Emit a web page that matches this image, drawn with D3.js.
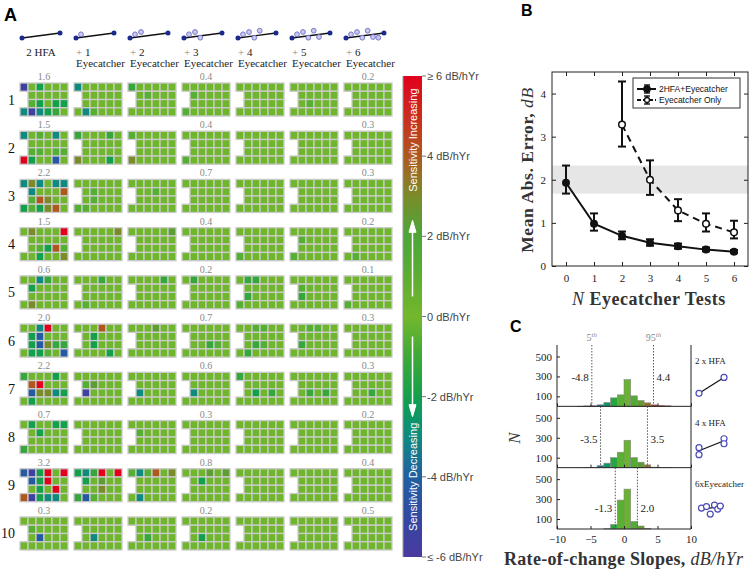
<!DOCTYPE html>
<html lang="en">
<head>
<meta charset="utf-8">
<script src="https://cdn.jsdelivr.net/npm/d3@7"></script>
<style>
  body { margin: 0; background: #fff; }
  svg text { font-family: "Liberation Serif", "Times New Roman", serif; }
  svg text.sans { font-family: "Liberation Sans", Arial, sans-serif; }
</style>
</head>
<body>
<div id="chart"></div>
<script>
// ---------------- panel A data ----------------
const rowIds = [1, 2, 3, 4, 5, 6, 7, 8, 9, 10];
const testCols = ["2 HFA", "+ 1", "+ 2", "+ 3", "+ 4", "+ 5", "+ 6"];
const labelledCols = [0, 3, 6];
const rowErrors = [
  [1.6, 0.4, 0.2], [1.5, 0.4, 0.3], [2.2, 0.7, 0.3], [1.5, 0.4, 0.2], [0.6, 0.2, 0.1],
  [2.0, 0.7, 0.3], [2.2, 0.6, 0.3], [0.7, 0.3, 0.2], [3.2, 0.8, 0.4], [0.3, 0.2, 0.5]
];
// each grid: 4 rows (6, 5, 5, 6 cells), one char per cell -> slope class
const codeSlopes = { ".": 0.15, ",": -0.6, "g": -1.2, "G": -2.0, "t": -3.0, "b": -4.3, "p": -5.5,
                     "O": 2.4, "o": 3.0, "r": 4.0, "R": 6.0 };
const gridCodes = [
  ["p.G...|.....|,G.GG|tptGg.", "t.....|.....|.....|.t,...", "g.....|.,...|.....|......", "......|,....|.....|,.....", "......|.....|.....|......", "......|.....|.,...|......", "......|.....|.....|......"],
  ["t.,.t.|.....|,,.,,|RG..b.", "g...g.|.....|.....|o...G.", ",.....|.....|.....|o.....", "......|.....|.....|,.....", "......|.....|.....|......", "......|.....|.....|......", "......|.....|.....|......"],
  ["tot.tt|t...r|,ro..|G,Gor.", "......|.,...|.,...|,,....", "......|..,..|.....|......", "......|.....|.....|......", "......|.....|.....|......", "......|.....|.....|......", "......|.....|.....|......"],
  [".o...R|.....|.,Gr,|..G..o", ".....o|.....|.....|......", ".....O|.....|.....|......", "......|.....|.....|......", "......|.....|.....|,.....", "......|,....|.....|,.....", "......|.....|.....|.,...."],
  ["..tg..|G....|.....|.o....", "...g..|.....|.....|.,....", "....g.|.....|.....|......", ".g....|.....|.....|......", ".gg...|.....|g....|,.....", "......|,....|g....|......", "......|.....|.....|,....."],
  ["..tR..|Gb...|Gbogg|.GG,.b", "...r..|.G...|.G...|....G.", "...O..|.....|.....|......", "......|.....|..g,.|......", "..,,..|.....|.g,..|.g....", "..,,..|.....|g....|......", "......|.....|.....|......"],
  ["g...G.|rR...|bootG|.G....", "......|,O...|p....|......", "......|.....|t....|......", "......|.....|t....|......", "g.....|.....|.G.g.|......", "......|.....|.g.g.|......", "......|.....|..g..|......"],
  [".G..GG|.G...|.....|g.....", "......|.....|.....|......", "......|,....|.....|......", "......|.....|.....|......", "......|.....|.....|......", "......|.....|.....|......", "......|.....|.....|......"],
  ["bpGR.R|bGR..|.G.R.|rpGtt.", "GtgR.R|G.O..|..o..|gb,...", ",t,r.o|.....|.....|.t....", "...O.O|.G...|.....|......", "......|.....|.....|......", "......|.....|.....|......", "......|.....|.....|......"],
  ["......|,....|.b...|......", "......|.....|.t...|......", "......|.....|.g...|......", "......|.....|.G...|......", "......|.....|.....|......", "......|.....|.....|......", "......|.....|.....|......"]
];
// header icons: eyecatcher points (x offset, y) shared by all icons
const eyeDx = [5, 11, 16.3, 21.7, 27, 32.3];
const eyeY = [34.3, 32, 37.7, 30.7, 37, 37.7];

// colour bar
const slopeStops = [-6, -5, -4, -3, -2.5, -2, -1, 0, 1, 2, 3, 4, 5, 6];
const slopeColors = ["#4a3a9e", "#3248a2", "#2060a2", "#0f8a7e", "#0c9866", "#12a04a", "#3ea938", "#74b72c",
                     "#5cae32", "#4ca63a", "#7a8c2a", "#ae581e", "#cc2c1c", "#e2001c"];
const cbTicks = [6, 4, 2, 0, -2, -4, -6];
const cbTickLabels = ["\u2265 6 dB/hYr", "4 dB/hYr", "2 dB/hYr", "0 dB/hYr", "-2 dB/hYr", "-4 dB/hYr", "\u2264 -6 dB/hYr"];

// ---------------- panel B data ----------------
const nTests = [0, 1, 2, 3, 4, 5, 6];
const hfaMean = [1.93, 0.98, 0.70, 0.54, 0.46, 0.38, 0.33];
const hfaLo = [1.68, 0.82, 0.62, 0.47, 0.40, 0.34, 0.30];
const hfaHi = [2.33, 1.22, 0.80, 0.62, 0.52, 0.43, 0.37];
const eyeTests = [2, 3, 4, 5, 6];
const eyeMean = [3.28, 2.00, 1.29, 0.98, 0.78];
const eyeLo = [2.77, 1.65, 1.04, 0.80, 0.64];
const eyeHi = [4.28, 2.45, 1.55, 1.22, 1.05];
const bandRange = [1.68, 2.33];

// ---------------- panel C data ----------------
const binStarts = [-7, -6, -5, -4, -3, -2, -1, 0, 1, 2, 3, 4, 5, 6];
const histHFA2 = [1, 4, 6, 15, 38, 85, 115, 268, 105, 58, 35, 15, 10, 5];
const histHFA4 = [0, 1, 3, 20, 45, 100, 155, 275, 100, 55, 28, 5, 2, 1];
const histEye6 = [0, 0, 0, 0, 3, 45, 290, 400, 75, 30, 5, 0, 0, 0];
const histTitles = ["2 x HFA", "4 x HFA", "6xEyecatcher"];
const pct5 = [-4.8, -3.5, -1.3];
const pct95 = [4.4, 3.5, 2.0];
const iconPts = [
  [[0, 130], [1, 290]],
  [[0, 200], [0, 130], [1, 290], [1, 240]],
  [[0.1, 210], [0.3, 225], [0.45, 150], [0.62, 240], [0.75, 200], [0.85, 230]]
];
const iconFit = [[130, 290], [170, 270], [190, 235]];

// ---------------- drawing ----------------
const svg = d3.select("#chart").append("svg").attr("width", 750).attr("height", 569);
const slopeColor = d3.scaleLinear().domain(slopeStops).range(slopeColors).clamp(true);

// ===== panel A =====
svg.append("text").attr("class", "sans").attr("x", 4).attr("y", 21)
  .attr("font-size", 18).attr("font-weight", "bold").text("A");

const gx = d3.scaleBand().domain(d3.range(7)).range([20, 392]).paddingInner(0.111);
const gy = d3.scaleBand().domain(rowIds).range([83, 550]).paddingInner(0.315);
const cx = d3.scaleBand().domain(d3.range(6)).range([0, gx.bandwidth()]);
const cy = d3.scaleBand().domain(d3.range(4)).range([0, gy.bandwidth()]);

// header icons
const head = svg.append("g");
testCols.forEach((lab, j) => {
  const x0 = gx(j) + 2, x1 = gx(j) + 40;
  const g = head.append("g");
  g.append("line").attr("x1", x0).attr("y1", 38).attr("x2", x1).attr("y2", 33)
    .attr("stroke", "#111").attr("stroke-width", 1.4);
  g.selectAll("circle.e").data(d3.range(j)).join("circle")
    .attr("cx", k => x0 + eyeDx[k]).attr("cy", k => eyeY[k]).attr("r", 2.4)
    .attr("fill", "#c9c9f0").attr("stroke", "#6c6cc4").attr("stroke-width", 0.9);
  g.selectAll("circle.h").data([[x0, 38], [x1, 33]]).join("circle")
    .attr("cx", d => d[0]).attr("cy", d => d[1]).attr("r", 2.5).attr("fill", "#1c2a8c");
  if (j === 0) {
    g.append("text").attr("x", (x0 + x1) / 2).attr("y", 56).attr("text-anchor", "middle")
      .attr("font-size", 11).attr("fill", "#222").text(lab);
  } else {
    const t = g.append("text").attr("x", x0).attr("y", 56).attr("font-size", 11).attr("fill", "#222");
    t.append("tspan").attr("fill", "#888").text("+");
    t.append("tspan").text(" " + lab.slice(2));
    g.append("text").attr("x", x0).attr("y", 67).attr("font-size", 11).attr("fill", "#222").text("Eyecatcher");
  }
});

// row labels
svg.append("g").selectAll("text").data(rowIds).join("text")
  .attr("x", 15).attr("y", d => gy(d) + gy.bandwidth() / 2 + 5)
  .attr("text-anchor", "end").attr("font-size", 14).attr("fill", "#111").text(d => d);

// row error values above grids
rowIds.forEach((rid, i) => {
  svg.append("g").selectAll("text").data(labelledCols).join("text")
    .attr("x", c => gx(c) + gx.bandwidth() / 2).attr("y", gy(rid) - 3)
    .attr("text-anchor", "middle").attr("font-size", 10).attr("fill", "#888")
    .text((c, k) => rowErrors[i][k].toFixed(1));
});

// grids
const parseGrid = code => {
  const cells = [];
  code.split("|").forEach((part, r) => {
    const start = (r === 1 || r === 2) ? 1 : 0;
    part.split("").forEach((ch, k) => cells.push({ r, c: start + k, v: codeSlopes[ch] }));
  });
  return cells;
};
gridCodes.forEach((row, i) => {
  row.forEach((code, j) => {
    svg.append("g")
      .attr("transform", `translate(${gx(j)},${gy(rowIds[i])})`)
      .selectAll("rect").data(parseGrid(code)).join("rect")
      .attr("x", d => cx(d.c)).attr("y", d => cy(d.r))
      .attr("width", cx.bandwidth()).attr("height", cy.bandwidth())
      .attr("fill", d => slopeColor(d.v))
      .attr("stroke", "#cbcbcb").attr("stroke-width", 1.3);
  });
});

// colour bar
const cbY = d3.scaleLinear().domain([6, -6]).range([76, 557]);
const cbX = 403, cbW = 19;
const grad = svg.append("defs").append("linearGradient").attr("id", "cbGrad")
  .attr("x1", 0).attr("y1", 0).attr("x2", 0).attr("y2", 1);
d3.range(0, 1.0001, 0.025).forEach(t =>
  grad.append("stop").attr("offset", t).attr("stop-color", slopeColor(6 - 12 * t)));
svg.append("rect").attr("x", cbX).attr("y", cbY(6)).attr("width", cbW)
  .attr("height", cbY(-6) - cbY(6)).attr("fill", "url(#cbGrad)");
svg.append("line").attr("x1", cbX).attr("x2", cbX).attr("y1", cbY(6)).attr("y2", cbY(-6))
  .attr("stroke", "#999").attr("stroke-width", 1);
svg.append("g").selectAll("line").data(cbTicks).join("line")
  .attr("x1", cbX + cbW).attr("x2", cbX + cbW + 4).attr("y1", d => cbY(d)).attr("y2", d => cbY(d))
  .attr("stroke", "#777");
svg.append("g").selectAll("text").data(cbTicks).join("text").attr("class", "sans")
  .attr("x", cbX + cbW + 5).attr("y", d => cbY(d) + 4).attr("font-size", 11).attr("fill", "#444")
  .text((d, k) => cbTickLabels[k]);
const cbMid = cbX + cbW / 2;
svg.append("text").attr("class", "sans")
  .attr("transform", `translate(${cbMid + 4},${cbY(4.4)}) rotate(-90)`)
  .attr("text-anchor", "middle").attr("font-size", 11).attr("fill", "#fff").text("Sensitivity Increasing");
svg.append("text").attr("class", "sans")
  .attr("transform", `translate(${cbMid + 4},${cbY(-4.0)}) rotate(-90)`)
  .attr("text-anchor", "middle").attr("font-size", 11).attr("fill", "#fff").text("Sensitivity Decreasing");
const arrows = svg.append("g").attr("stroke", "#fff").attr("fill", "#fff");
arrows.append("line").attr("x1", cbMid).attr("x2", cbMid).attr("y1", cbY(0.5)).attr("y2", cbY(2.1)).attr("stroke-width", 1.5);
arrows.append("path").attr("d", `M${cbMid - 3.5},${cbY(2.1)} L${cbMid + 3.5},${cbY(2.1)} L${cbMid},${cbY(2.4)} Z`);
arrows.append("line").attr("x1", cbMid).attr("x2", cbMid).attr("y1", cbY(-0.5)).attr("y2", cbY(-2.2)).attr("stroke-width", 1.5);
arrows.append("path").attr("d", `M${cbMid - 3.5},${cbY(-2.2)} L${cbMid + 3.5},${cbY(-2.2)} L${cbMid},${cbY(-2.5)} Z`);

// ===== panel B =====
svg.append("text").attr("class", "sans").attr("x", 521).attr("y", 16)
  .attr("font-size", 16).attr("font-weight", "bold").text("B");
const bx = d3.scaleLinear().domain([-0.5, 6.5]).range([552, 748]);
const by = d3.scaleLinear().domain([0, 4.5]).range([266, 72]);
const pB = svg.append("g");
pB.append("rect").attr("x", bx(-0.5)).attr("width", bx(6.5) - bx(-0.5))
  .attr("y", by(bandRange[1])).attr("height", by(bandRange[0]) - by(bandRange[1])).attr("fill", "#e6e6e6");
const styleAxis = g => {
  g.select(".domain").remove();
  g.selectAll("line").attr("stroke", "#222");
  g.selectAll("text").attr("font-family", "Liberation Serif, serif").attr("font-size", 11).attr("fill", "#222");
};
const intFmt = d3.format("d");
pB.append("g").attr("transform", `translate(0,${by(0)})`)
  .call(d3.axisBottom(bx).tickValues(nTests).tickFormat(intFmt).tickSize(-4).tickPadding(8)).call(styleAxis);
pB.append("g").attr("transform", `translate(0,${by(4.5)})`)
  .call(d3.axisTop(bx).tickValues(nTests).tickSize(-4).tickFormat("")).call(styleAxis);
pB.append("g").attr("transform", `translate(${bx(-0.5)},0)`)
  .call(d3.axisLeft(by).tickValues([0, 1, 2, 3, 4]).tickFormat(intFmt).tickSize(-4).tickPadding(6)).call(styleAxis);
pB.append("g").attr("transform", `translate(${bx(6.5)},0)`)
  .call(d3.axisRight(by).tickValues([0, 1, 2, 3, 4]).tickSize(-4).tickFormat("")).call(styleAxis);
pB.append("rect").attr("x", bx(-0.5)).attr("y", by(4.5)).attr("width", bx(6.5) - bx(-0.5))
  .attr("height", by(0) - by(4.5)).attr("fill", "none").attr("stroke", "#222").attr("stroke-width", 1);

const hfaPts = nTests.map((n, k) => ({ n, m: hfaMean[k], lo: hfaLo[k], hi: hfaHi[k] }));
const eyePts = eyeTests.map((n, k) => ({ n, m: eyeMean[k], lo: eyeLo[k], hi: eyeHi[k] }));
const lineB = d3.line().x(d => bx(d.n)).y(d => by(d.m));
pB.append("path").datum(hfaPts).attr("d", lineB).attr("fill", "none").attr("stroke", "#111").attr("stroke-width", 2);
pB.append("path").datum(eyePts).attr("d", lineB).attr("fill", "none").attr("stroke", "#111")
  .attr("stroke-width", 2).attr("stroke-dasharray", "7,5");
const errBars = (pts) => {
  const g = pB.append("g").attr("stroke", "#111").attr("stroke-width", 2);
  g.selectAll("line.v").data(pts).join("line").attr("x1", d => bx(d.n)).attr("x2", d => bx(d.n))
    .attr("y1", d => by(d.lo)).attr("y2", d => by(d.hi));
  ["lo", "hi"].forEach(key => g.selectAll("line." + key).data(pts).join("line").attr("class", key)
    .attr("x1", d => bx(d.n) - 4).attr("x2", d => bx(d.n) + 4)
    .attr("y1", d => by(d[key])).attr("y2", d => by(d[key])));
};
errBars(hfaPts);
errBars(eyePts);
pB.append("g").selectAll("circle").data(hfaPts).join("circle")
  .attr("cx", d => bx(d.n)).attr("cy", d => by(d.m)).attr("r", 4).attr("fill", "#111");
pB.append("g").selectAll("circle").data(eyePts).join("circle")
  .attr("cx", d => bx(d.n)).attr("cy", d => by(d.m)).attr("r", 3.3)
  .attr("fill", "#fff").attr("stroke", "#111").attr("stroke-width", 1.5);

// legend
const lg = pB.append("g");
lg.append("rect").attr("x", 633).attr("y", 78).attr("width", 107).attr("height", 30)
  .attr("fill", "#fff").attr("stroke", "#333").attr("stroke-width", 1);
[["2HFA+Eyecatcher", 89, true], ["Eyecatcher Only", 100, false]].forEach(([lab, yy, filled]) => {
  lg.append("line").attr("x1", 637).attr("x2", 656).attr("y1", yy).attr("y2", yy)
    .attr("stroke", "#111").attr("stroke-width", 2).attr("stroke-dasharray", filled ? null : "4,2");
  lg.append("line").attr("x1", 647).attr("x2", 647).attr("y1", yy - 4).attr("y2", yy + 4).attr("stroke", "#111").attr("stroke-width", 1.6);
  lg.append("line").attr("x1", 644).attr("x2", 650).attr("y1", yy - 4).attr("y2", yy - 4).attr("stroke", "#111").attr("stroke-width", 1.4);
  lg.append("line").attr("x1", 644).attr("x2", 650).attr("y1", yy + 4).attr("y2", yy + 4).attr("stroke", "#111").attr("stroke-width", 1.4);
  lg.append("circle").attr("cx", 647).attr("cy", yy).attr("r", filled ? 3.2 : 2.5)
    .attr("fill", filled ? "#111" : "#fff").attr("stroke", "#111").attr("stroke-width", 1.3);
  lg.append("text").attr("class", "sans").attr("x", 659).attr("y", yy + 3)
    .attr("font-size", 8.5).attr("fill", "#111").text(lab);
});

// axis titles
const ylabB = svg.append("text").attr("transform", `translate(533,170) rotate(-90)`)
  .attr("text-anchor", "middle").attr("font-size", 17.5).attr("letter-spacing", 0.6)
  .attr("font-weight", "bold").attr("fill", "#333");
ylabB.append("tspan").text("Mean Abs. Error, ");
ylabB.append("tspan").attr("font-style", "italic").attr("font-weight", "normal").text("dB");
const xlabB = svg.append("text").attr("x", 572).attr("y", 305)
  .attr("font-size", 18).attr("letter-spacing", 0.5).attr("font-weight", "bold").attr("fill", "#333");
xlabB.append("tspan").attr("font-style", "italic").attr("font-weight", "normal").text("N");
xlabB.append("tspan").text(" Eyecatcher Tests");

// ===== panel C =====
svg.append("text").attr("class", "sans").attr("x", 510).attr("y", 332)
  .attr("font-size", 16).attr("font-weight", "bold").text("C");
const hx = d3.scaleLinear().domain([-10, 10]).range([557, 691]);
const panelY = d3.scaleBand().domain([0, 1, 2]).range([345, 529]);
const hists = [histHFA2, histHFA4, histEye6];
hists.forEach((vals, p) => {
  const top = panelY(p), bot = top + panelY.bandwidth();
  const hy = d3.scaleLinear().domain([0, 615]).range([bot, top]);
  const g = svg.append("g");
  g.selectAll("rect").data(binStarts.map((b, k) => ({ b, v: vals[k] })).filter(d => d.v > 0)).join("rect")
    .attr("x", d => hx(d.b))
    .attr("width", d => hx(d.b + 1) - hx(d.b)).attr("y", d => hy(d.v)).attr("height", d => hy(0) - hy(d.v))
    .attr("fill", d => slopeColor(d.b + 0.5)).attr("stroke", "#888").attr("stroke-width", 0.6);
  g.append("g").attr("transform", `translate(${hx(-10)},0)`)
    .call(d3.axisLeft(hy).tickValues([100, 300, 500]).tickSize(-3).tickPadding(5)).call(styleAxis);
  g.append("g").attr("transform", `translate(0,${bot})`)
    .call(d3.axisBottom(hx).tickValues([-10, -5, 0, 5, 10]).tickSize(-3).tickPadding(6)
      .tickFormat(p === 2 ? d3.format("") : "")).call(styleAxis);
  g.append("line").attr("x1", hx(-10)).attr("x2", hx(10)).attr("y1", bot).attr("y2", bot).attr("stroke", "#222");
  g.append("line").attr("x1", hx(-10)).attr("x2", hx(-10)).attr("y1", top).attr("y2", bot).attr("stroke", "#222");
  g.append("line").attr("x1", hx(10)).attr("x2", hx(10)).attr("y1", top).attr("y2", bot).attr("stroke", "#222");
  // percentile lines
  [pct5[p], pct95[p]].forEach((v, k) => {
    g.append("line").attr("x1", hx(v)).attr("x2", hx(v)).attr("y1", top).attr("y2", bot)
      .attr("stroke", "#444").attr("stroke-width", 0.9).attr("stroke-dasharray", "1.5,1.5");
    g.append("text").attr("x", k === 0 ? hx(v) - 3 : hx(v) + 3).attr("y", hy(p === 2 ? 210 : 290) + 4)
      .attr("text-anchor", k === 0 ? "end" : "start").attr("font-size", 11).attr("fill", "#222")
      .text(v.toFixed(1));
  });
  // icon on the right
  const ix = d3.scaleLinear().domain([0, 1]).range([699, 724]);
  g.append("text").attr("x", 695).attr("y", hy(450) + 3).attr("font-size", 9).attr("fill", "#222").text(histTitles[p]);
  g.append("line").attr("x1", ix(0)).attr("x2", ix(1)).attr("y1", hy(iconFit[p][0])).attr("y2", hy(iconFit[p][1]))
    .attr("stroke", "#111").attr("stroke-width", 1.2);
  g.selectAll("circle").data(iconPts[p]).join("circle")
    .attr("cx", d => ix(d[0])).attr("cy", d => hy(d[1])).attr("r", 3)
    .attr("fill", "#fff").attr("stroke", "#4b4bb8").attr("stroke-width", 1.2);
});
// percentile headers
[[pct5[0], "5"], [pct95[0], "95"]].forEach(([v, n]) => {
  const t = svg.append("text").attr("x", hx(v)).attr("y", 341).attr("text-anchor", "middle")
    .attr("font-size", 10).attr("fill", "#888");
  t.append("tspan").text(n);
  t.append("tspan").attr("font-size", 7).attr("font-style", "italic").attr("dy", -4).text("th");
});
svg.append("text").attr("transform", `translate(520,438) rotate(-90)`)
  .attr("text-anchor", "middle").attr("font-size", 17).attr("font-style", "italic").attr("fill", "#333").text("N");
const xlabC = svg.append("text").attr("x", 504).attr("y", 565)
  .attr("font-size", 18).attr("letter-spacing", 0.3).attr("font-weight", "bold").attr("fill", "#333");
xlabC.append("tspan").text("Rate-of-change Slopes, ");
xlabC.append("tspan").attr("font-style", "italic").attr("font-weight", "normal").text("dB/hYr");
</script>
</body>
</html>
